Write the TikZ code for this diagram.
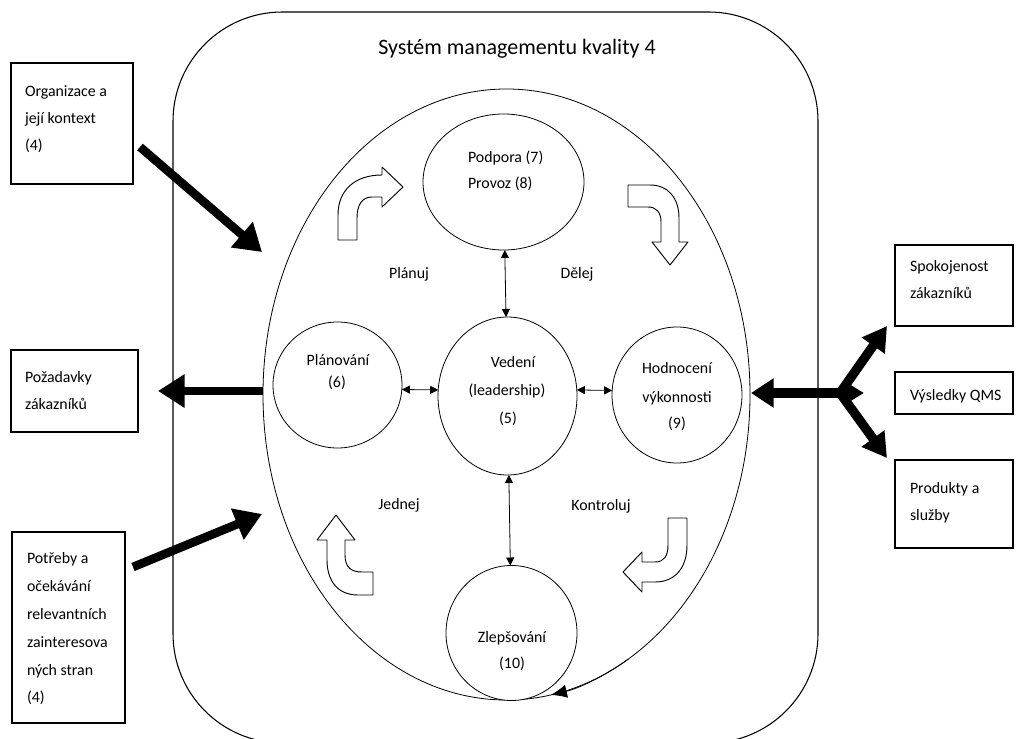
\documentclass[tikz,border=0pt]{standalone}
\usepackage{fontspec}
\setmainfont{Carlito}
\usetikzlibrary{arrows.meta,shapes.geometric}

\begin{document}
\begin{tikzpicture}[x=0.75pt,y=-0.75pt,
  every node/.style={inner sep=0pt, outer sep=0pt},
  body/.style={font=\fontsize{11.9}{14}\selectfont, anchor=base},
  bodyl/.style={body, anchor=base west},
  heading/.style={font=\fontsize{16.5}{20}\selectfont, anchor=base},
  disc/.style={ellipse, draw, line width=0.6pt, fill=white},
  infobox/.style={draw, line width=0.8pt, anchor=north west},
  link/.style={line width=0.6pt, {Triangle[length=6pt,width=6pt]}-{Triangle[length=6pt,width=6pt]}},
  fat/.style={line width=6.5pt, -{Triangle[length=20pt,width=24pt]}},
  turn/.style={draw, line width=0.7pt, fill=white, line join=round},
]
\useasboundingbox (0,0) rectangle (1016,738);

% system frame and title
\draw[line width=0.8pt, rounded corners=82pt] (173,12) rectangle (818,743);
\node[heading] (title) at (517,55) {Systém managementu kvality 4};

% PDCA ring and process discs
\node[disc, fill=none, minimum width=365.25pt, minimum height=458.25pt] (ring) at (506.5,394.5) {};
\draw[line width=0.6pt, -{Latex[length=12pt,width=10pt]}] (628.25,659.1)
  arc[start angle=60, end angle=79.5, x radius=243.5, y radius=305.5];

\node[disc, minimum width=120.75pt, minimum height=102pt] (support) at (503.5,182) {};
\node[disc, minimum width=104.25pt, minimum height=118.5pt] (lead) at (507.5,396) {};
\node[disc, minimum width=96.75pt, minimum height=94.5pt] (plan) at (337.5,385) {};
\node[disc, minimum width=97.5pt, minimum height=102pt] (eval) at (677,395) {};
\node[disc, minimum width=98.25pt, minimum height=101.25pt] (improve) at (511.5,633) {};

% links between the leadership disc and the others
\draw[link] (support) -- (lead);
\draw[link] (plan.-4) -- (lead.175);
\draw[link] (lead.5) -- (eval.176);
\draw[link] (lead) -- (improve);

% curved block arrows of the cycle
\draw[turn] (338,240) -- (338,215) .. controls (338,190) and (355,175) .. (382,175)
  -- (382,167) -- (403,187) -- (382,207) -- (382,197) -- (372,197)
  .. controls (362,197) and (357,205) .. (357,218) -- (357,240) -- cycle;
\draw[turn] (628,185) -- (650,185) .. controls (668,185) and (679,198) .. (679,218)
  -- (679,242) -- (688,242) -- (670,265) -- (652,242) -- (661,242) -- (661,222)
  .. controls (661,212) and (656,207) .. (648,207) -- (628,207) -- cycle;
\draw[turn] (336,515) -- (355,540) -- (345,540) -- (345,555)
  .. controls (345,568) and (352,572) .. (362,572) -- (373,572) -- (373,595)
  -- (358,595) .. controls (337,595) and (327,580) .. (327,560) -- (327,540)
  -- (317,540) -- cycle;
\draw[turn] (668,518) -- (687,518) -- (687,545) .. controls (687,568) and (675,582) .. (655,582)
  -- (642,582) -- (642,592) -- (623,572) -- (642,552) -- (642,562) -- (655,562)
  .. controls (664,562) and (668,556) .. (668,545) -- cycle;

% outside boxes
\node[infobox, minimum width=91.5pt, minimum height=90.75pt] (orgbox) at (11,63) {};
\node[infobox, minimum width=95.25pt, minimum height=61.5pt] (reqbox) at (11,350) {};
\node[infobox, minimum width=84.75pt, minimum height=143.25pt] (needbox) at (12,532) {};
\node[infobox, minimum width=88.5pt, minimum height=60.75pt] (satbox) at (895,245) {};
\node[infobox, minimum width=88.5pt, minimum height=31.5pt] (resbox) at (895,372) {};
\node[infobox, minimum width=88.5pt, minimum height=66pt] (prodbox) at (895,460) {};

% heavy arrows between the boxes and the system
\coordinate (orgA) at (140,147);
\coordinate (orgB) at (262,252);
\coordinate (ringW) at (263,391);
\coordinate (reqTip) at (158,391);
\coordinate (needA) at (133,567);
\coordinate (needB) at (262,514);
\draw[fat] (orgA) -- (orgB);
\draw[fat] (ringW) -- (reqTip);
\draw[fat] (needA) -- (needB);

\coordinate (ringE) at (751,393);
\coordinate (hub) at (840,393);
\coordinate (hubTip) at (864,393);
\coordinate (upTip) at (887,326);
\coordinate (downTip) at (887,458);
\draw[line width=7pt, -{Triangle[length=18pt,width=20pt]}] (hub) -- (upTip);
\draw[line width=7pt, -{Triangle[length=18pt,width=20pt]}] (hub) -- (downTip);
\draw[line width=7.5pt, {Triangle[length=17pt,width=21pt]}-{Triangle[length=15pt,width=17pt]}] (ringE) -- (hubTip);

% texts of the discs
\node[bodyl] (t1) at (468,162) {Podpora (7)};
\node[bodyl] (t2) at (468,188) {Provoz (8)};
\node[body] (t3) at (513,367) {Vedení};
\node[body] (t4) at (507,395) {(leadership)};
\node[body] (t5) at (508,423) {(5)};
\node[body] (t6) at (338,365) {Plánování};
\node[body] (t7) at (337,387) {(6)};
\node[body] (t8) at (677,373) {Hodnocení};
\node[body] (t9) at (677,402) {výkonnosti};
\node[body] (t10) at (677,428) {(9)};
\node[body] (t11) at (512,642) {Zlepšování};
\node[body] (t12) at (512,668) {(10)};

% cycle labels
\node[body] (l1) at (409,278) {Plánuj};
\node[body] (l2) at (577,278) {Dělej};
\node[body] (l3) at (399,509) {Jednej};
\node[body] (l4) at (601,510) {Kontroluj};

% texts of the outside boxes
\node[bodyl] (o1) at (25,97) {Organizace a};
\node[bodyl] (o2) at (25,124) {její kontext};
\node[bodyl] (o3) at (25,151) {(4)};
\node[bodyl] (r1) at (25,382) {Požadavky};
\node[bodyl] (r2) at (25,409) {zákazníků};
\node[bodyl] (n1) at (27,563) {Potřeby a};
\node[bodyl] (n2) at (27,591) {očekávání};
\node[bodyl] (n3) at (27,619) {relevantních};
\node[bodyl] (n4) at (27,647) {zainteresova};
\node[bodyl] (n5) at (27,675) {ných stran};
\node[bodyl] (n6) at (27,702) {(4)};
\node[bodyl] (s1) at (910,271) {Spokojenost};
\node[bodyl] (s2) at (910,298) {zákazníků};
\node[bodyl] (q1) at (910,400) {Výsledky QMS};
\node[bodyl] (p1) at (910,493) {Produkty a};
\node[bodyl] (p2) at (910,520) {služby};
\end{tikzpicture}
\end{document}
